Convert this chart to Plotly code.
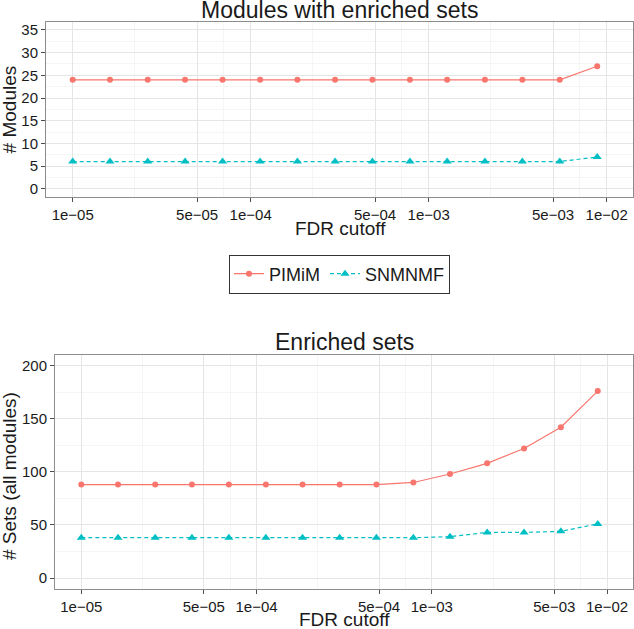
import plotly.graph_objects as go

# ---- data ----
fdr = [1.0e-05, 1.62e-05, 2.64e-05, 4.28e-05, 6.95e-05, 1.13e-04, 1.83e-04, 2.98e-04,
       4.83e-04, 7.85e-04, 1.27e-03, 2.07e-03, 3.36e-03, 5.45e-03, 8.85e-03]
modules_pimim = [24, 24, 24, 24, 24, 24, 24, 24, 24, 24, 24, 24, 24, 24, 27]
modules_snmnmf = [6, 6, 6, 6, 6, 6, 6, 6, 6, 6, 6, 6, 6, 6, 7]
sets_pimim = [88, 88, 88, 88, 88, 88, 88, 88, 88, 90, 98, 108, 122, 142, 176]
sets_snmnmf = [38, 38, 38, 38, 38, 38, 38, 38, 38, 38, 39, 43, 43, 44, 51]

x_tickvals = [1e-05, 5e-05, 1e-04, 5e-04, 1e-03, 5e-03, 1e-02]
x_ticktext = ["1e\u221205", "5e\u221205", "1e\u221204", "5e\u221204", "1e\u221203", "5e\u221203", "1e\u221202"]
x_minor = [2.236e-05, 7.071e-05, 2.236e-04, 7.071e-04, 2.236e-03, 7.071e-03]
y1_ticks = [0, 5, 10, 15, 20, 25, 30, 35]
y1_minor = [2.5, 7.5, 12.5, 17.5, 22.5, 27.5, 32.5]
y2_ticks = [0, 50, 100, 150, 200]
y2_minor = [25, 75, 125, 175]

RED = "#F8766D"
CYAN = "#00BFC4"
FONT = "Liberation Sans"
W, H = 634, 629

fig = go.Figure()

def add_series(xa, ya, yp, ys, show):
    fig.add_trace(go.Scatter(x=fdr, y=yp, name="PIMiM", mode="lines+markers",
                             line=dict(color=RED, width=1.2),
                             marker=dict(symbol="circle", size=6, color=RED),
                             xaxis=xa, yaxis=ya, showlegend=show, legendgroup="p"))
    fig.add_trace(go.Scatter(x=fdr, y=ys, name="SNMNMF", mode="lines+markers",
                             line=dict(color=CYAN, width=1.2, dash="4px,3px"),
                             marker=dict(symbol="triangle-up", size=8, color=CYAN),
                             xaxis=xa, yaxis=ya, showlegend=show, legendgroup="s"))

add_series("x", "y", modules_pimim, modules_snmnmf, True)
add_series("x2", "y2", sets_pimim, sets_snmnmf, False)

def px(x):
    return x / W

def py(y):
    return 1 - y / H

common_x = dict(type="log", range=[-5.150, -1.852], tickmode="array",
                tickvals=x_tickvals, ticktext=x_ticktext,
                showgrid=True, gridcolor="#E5E5E5", gridwidth=1,
                minor=dict(tickmode="array", tickvals=x_minor, showgrid=True,
                           gridcolor="#F5F5F5", gridwidth=1, ticks=""),
                ticks="outside", ticklen=4, tickcolor="#4D4D4D", tickwidth=1,
                showline=True, linecolor="#8C8C8C", linewidth=1, mirror=True,
                zeroline=False, automargin=False, ticklabeloverflow="allow",
                tickfont=dict(family=FONT, size=15, color="#1A1A1A"))

def common_y(rng, ticks, minor):
    return dict(range=rng, tickmode="array", tickvals=ticks,
                showgrid=True, gridcolor="#E5E5E5", gridwidth=1,
                minor=dict(tickmode="array", tickvals=minor, showgrid=True,
                           gridcolor="#F5F5F5", gridwidth=1, ticks=""),
                ticks="outside", ticklen=4, tickcolor="#4D4D4D", tickwidth=1,
                showline=True, linecolor="#8C8C8C", linewidth=1, mirror=True,
                zeroline=False, automargin=False, ticklabeloverflow="allow",
                tickfont=dict(family=FONT, size=15, color="#1A1A1A"))

fig.update_layout(
    width=W, height=H, autosize=False,
    margin=dict(l=0, r=0, t=0, b=0, autoexpand=False),
    paper_bgcolor="white", plot_bgcolor="white",
    font=dict(family=FONT, color="#1A1A1A"),
    xaxis=dict(domain=[px(46), px(633)], anchor="y", **common_x),
    yaxis=dict(domain=[py(196.7), py(22)], anchor="x", **common_y([-1.75, 36.75], y1_ticks, y1_minor)),
    xaxis2=dict(domain=[px(55), px(633)], anchor="y2", **common_x),
    yaxis2=dict(domain=[py(588.7), py(355)], anchor="x2", **common_y([-10, 210], y2_ticks, y2_minor)),
    legend=dict(orientation="h", x=px(339.5), xanchor="center", y=py(254.5), yanchor="top",
                bordercolor="#333333", borderwidth=1, bgcolor="white",
                font=dict(family=FONT, size=18, color="#1A1A1A"),
                itemwidth=30, tracegroupgap=0),
    showlegend=True,
)

def title_annot(text, x, y_mid, size, angle=0, xanchor="center"):
    fig.add_annotation(text=text, x=x, y=y_mid, xref="paper", yref="paper",
                       xanchor=xanchor, yanchor="middle", textangle=angle, showarrow=False,
                       font=dict(family=FONT, size=size, color="#1A1A1A"))

title_annot("Modules with enriched sets", px(339.5), py(18.0 - 0.35 * 23), 23)
title_annot("FDR cutoff", px(340), py(235.5 - 0.35 * 19), 19)
title_annot("Enriched sets", px(344), py(350 - 0.35 * 23), 23)
title_annot("FDR cutoff", px(344), py(626.5 - 0.35 * 19), 19)
title_annot("# Modules", px(9), py(109.4), 19, angle=-90)
title_annot("# Sets (all modules)", px(9), py(476), 19, angle=-90)

fig.write_html("out.html",
               config={"displayModeBar": False},
               post_script="document.body.style.margin='0px';document.body.style.overflow='hidden';")
